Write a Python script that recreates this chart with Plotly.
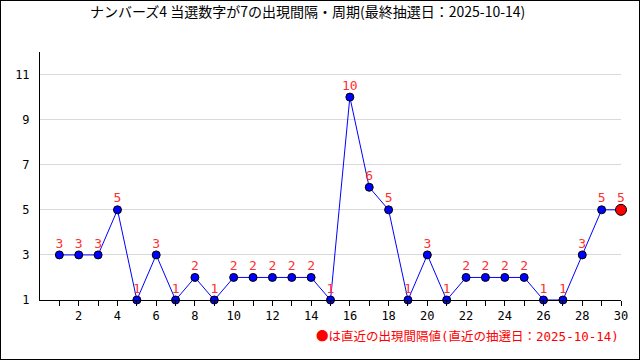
import plotly.graph_objects as go

draws = list(range(1, 31))
intervals = [3, 3, 3, 5, 1, 3, 1, 2, 1, 2, 2, 2, 2, 2, 1, 10, 6, 5, 1, 3, 1, 2, 2, 2, 2, 1, 1, 3, 5, 5]
y_tick_vals = [1, 3, 5, 7, 9, 11]
title_text = "ナンバーズ4 当選数字が7の出現間隔・周期(最終抽選日：2025-10-14)"
note_mark = "●"
note_text = "は直近の出現間隔値(直近の抽選日：2025-10-14)"

W, H = 640, 360
L, R, T, B = 40, 19, 52, 60
pw, ph = W - L - R, H - T - B

font_main = "DejaVu Sans Mono, Noto Sans CJK JP"

fig = go.Figure()
fig.add_trace(go.Scatter(
    x=draws, y=intervals, mode="lines+markers",
    line=dict(color="#0000ff", width=1),
    marker=dict(color="#0000ff", size=8, line=dict(color="black", width=1)),
    cliponaxis=False, hoverinfo="skip", showlegend=False,
))
fig.add_trace(go.Scatter(
    x=[draws[-1]], y=[intervals[-1]], mode="markers",
    marker=dict(color="#ff0000", size=11, line=dict(color="black", width=1)),
    cliponaxis=False, hoverinfo="skip", showlegend=False,
))
fig.add_trace(go.Scatter(
    x=draws, y=intervals, mode="markers+text",
    marker=dict(size=5, color="rgba(0,0,0,0)", line=dict(width=0)),
    text=[str(v) for v in intervals], textposition="top center",
    textfont=dict(color="#ff3030", size=13, family=font_main),
    cliponaxis=False, hoverinfo="skip", showlegend=False,
))

fig.update_layout(
    width=W, height=H,
    margin=dict(l=L, r=R, t=T, b=B, autoexpand=False),
    paper_bgcolor="white", plot_bgcolor="white",
    title=dict(text=title_text, xref="paper", x=(90 - L) / pw, xanchor="left",
               y=1 - 12 / H, yanchor="middle",
               font=dict(size=14, color="black", family="Noto Sans CJK JP")),
    xaxis=dict(range=[0, 30], tickmode="array", tickvals=draws,
               ticktext=[str(d) if d % 2 == 0 else "" for d in draws],
               showgrid=False, zeroline=False, showline=True, linecolor="black", linewidth=1,
               ticks="outside", ticklen=5, tickcolor="black", automargin=False,
               tickfont=dict(size=12, color="black", family=font_main)),
    yaxis=dict(range=[1, 12], tickmode="array", tickvals=y_tick_vals,
               showgrid=True, gridcolor="#d9d9d9", gridwidth=1, zeroline=False,
               showline=True, linecolor="black", linewidth=1, ticks="",
               ticklabelstandoff=7, automargin=False,
               tickfont=dict(size=12, color="black", family=font_main)),
    annotations=[dict(text='<span style="font-family:Noto Sans CJK JP">' + note_mark + '</span>' + note_text,
                      xref="paper", yref="paper",
                      x=1, y=-35 / ph, xanchor="right", yanchor="middle",
                      showarrow=False,
                      font=dict(size=12.5, color="#ff0000", family=font_main))],
)

fig.write_html(
    "out.html",
    config={"displayModeBar": False, "staticPlot": True},
    post_script=(
        "document.body.style.margin='0';document.body.style.padding='0';"
        "var d=document.createElement('div');"
        "d.style.cssText='position:absolute;left:0;top:0;width:640px;height:360px;"
        "box-sizing:border-box;border:1px solid black;pointer-events:none;z-index:1000;';"
        "document.body.appendChild(d);"
    ),
)
